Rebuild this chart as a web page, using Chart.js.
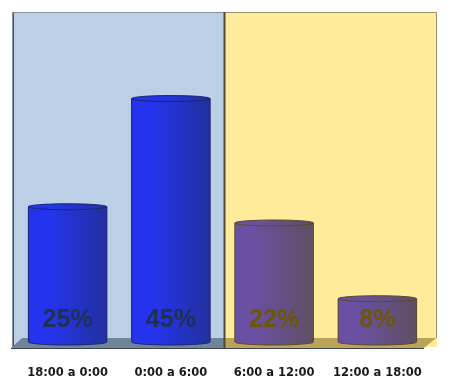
<!DOCTYPE html>
<html>
<head>
<meta charset="utf-8">
<script src="https://cdn.jsdelivr.net/npm/chart.js@4.4.1/dist/chart.umd.min.js"></script>
<style>
  html, body { margin: 0; padding: 0; background: #ffffff; }
  #wrap { width: 450px; height: 389px; }
</style>
</head>
<body>
<div id="wrap"><canvas id="chart"></canvas></div>
<script>
/* =========================
   DATOS
========================= */
const categorias = ["18:00 a 0:00", "0:00 a 6:00", "6:00 a 12:00", "12:00 a 18:00"];
const porcentajes = [25, 45, 22, 8];

// colores por barra (noche = azul, día = morado)
const colorClaro = ["#2434ee", "#2434ee", "#6a50a2", "#6a50a2"];
const colorOscuro = ["#22309e", "#22309e", "#5e4f62", "#5e4f62"];
const colorBorde = ["#1a2672", "#1a2672", "#5a4a2c", "#5a4a2c"];
const colorTexto = ["#1f3050", "#1f3050", "#6b5608", "#6b5608"];

/* =========================
   FONDO + SUELO 3D
========================= */
const fondo = {
    id: "fondo",
    beforeDatasetsDraw(chart) {
        const { ctx, chartArea: ca, scales: { x } } = chart;
        const left = ca.left - 4, right = ca.right + 8;
        const top = ca.top, bottom = ca.bottom + 5;
        const mid = x.getPixelForValue(1.5) + 2;

        ctx.save();
        ctx.fillStyle = "#bbcfe6";
        ctx.fillRect(left, top, mid - left, bottom - top);
        ctx.fillStyle = "#ffeb99";
        ctx.fillRect(mid, top, right - mid, bottom - top);

        // suelo
        const fy0 = bottom - 9, fy1 = bottom + 1;
        ctx.beginPath();
        ctx.moveTo(left - 1, fy1);
        ctx.lineTo(left + 10, fy0);
        ctx.lineTo(mid, fy0);
        ctx.lineTo(mid, fy1);
        ctx.closePath();
        ctx.fillStyle = "#6f8399";
        ctx.fill();
        ctx.beginPath();
        ctx.moveTo(mid, fy1);
        ctx.lineTo(mid, fy0);
        ctx.lineTo(right - 1, fy0);
        ctx.lineTo(right - 13, fy1);
        ctx.closePath();
        ctx.fillStyle = "#b9a458";
        ctx.fill();

        // bordes
        ctx.lineWidth = 1;
        ctx.strokeStyle = "#8a9099";
        ctx.beginPath();
        ctx.moveTo(left + 0.5, fy1);
        ctx.lineTo(left + 0.5, top + 0.5);
        ctx.lineTo(mid, top + 0.5);
        ctx.stroke();
        ctx.strokeStyle = "#4a5058";
        ctx.beginPath();
        ctx.moveTo(left + 1.5, fy1 - 2);
        ctx.lineTo(left + 1.5, top + 1);
        ctx.stroke();
        ctx.strokeStyle = "#9a9070";
        ctx.beginPath();
        ctx.moveTo(mid, top + 0.5);
        ctx.lineTo(right - 0.5, top + 0.5);
        ctx.lineTo(right - 0.5, fy0);
        ctx.stroke();
        ctx.lineWidth = 2;
        ctx.strokeStyle = "#4e4a3a";
        ctx.beginPath();
        ctx.moveTo(mid, top);
        ctx.lineTo(mid, fy1);
        ctx.stroke();
        ctx.lineWidth = 1;
        ctx.strokeStyle = "#3c4450";
        ctx.beginPath();
        ctx.moveTo(left - 1, fy1 + 0.5);
        ctx.lineTo(right - 13, fy1 + 0.5);
        ctx.stroke();
        ctx.restore();
    }
};

/* =========================
   CILINDROS + ETIQUETAS
========================= */
const cilindros = {
    id: "cilindros",
    afterDatasetsDraw(chart) {
        const { ctx } = chart;
        const meta = chart.getDatasetMeta(0);
        ctx.save();
        meta.data.forEach((bar, i) => {
            const w = bar.width, x0 = bar.x - w / 2, x1 = bar.x + w / 2;
            const top = bar.y, base = bar.base, ry = 3;

            const g = ctx.createLinearGradient(x0, 0, x1, 0);
            g.addColorStop(0, colorClaro[i]);
            g.addColorStop(0.25, colorClaro[i]);
            g.addColorStop(1, colorOscuro[i]);

            // cuerpo
            ctx.beginPath();
            ctx.moveTo(x0, top);
            ctx.lineTo(x0, base);
            ctx.ellipse(bar.x, base, w / 2, ry, 0, Math.PI, 0, true);
            ctx.lineTo(x1, top);
            ctx.closePath();
            ctx.fillStyle = g;
            ctx.fill();
            ctx.strokeStyle = colorBorde[i];
            ctx.lineWidth = 1;
            ctx.stroke();

            // tapa
            ctx.beginPath();
            ctx.ellipse(bar.x, top, w / 2, ry, 0, 0, Math.PI * 2);
            ctx.fillStyle = g;
            ctx.fill();
            ctx.stroke();

            // etiqueta
            ctx.fillStyle = colorTexto[i];
            ctx.font = "bold 25px 'Liberation Sans', Arial, sans-serif";
            ctx.textAlign = "center";
            ctx.textBaseline = "middle";
            ctx.fillText(porcentajes[i] + "%", bar.x, base - 22);
        });
        ctx.restore();
    }
};

/* =========================
   GRÁFICO
========================= */
new Chart(document.getElementById("chart"), {
    type: "bar",
    data: {
        labels: categorias,
        datasets: [{
            data: porcentajes,
            backgroundColor: colorClaro,
            borderWidth: 0,
            barPercentage: 0.76,
            categoryPercentage: 1
        }]
    },
    options: {
        responsive: true,
        maintainAspectRatio: false,
        animation: false,
        layout: { padding: { left: 16, right: 21, top: 12, bottom: 0 } },
        scales: {
            x: {
                grid: { display: false, drawTicks: false },
                border: { display: false },
                afterFit(scale) { scale.height = 47; },
                ticks: {
                    padding: 24,
                    color: "#1a1a1a",
                    font: { family: "'DejaVu Sans', Verdana, sans-serif", size: 11.5, weight: "bold" }
                }
            },
            y: { display: false, min: 0, max: 61 }
        },
        plugins: {
            legend: { display: false },
            tooltip: { enabled: false }
        }
    },
    plugins: [fondo, cilindros]
});
</script>
</body>
</html>
